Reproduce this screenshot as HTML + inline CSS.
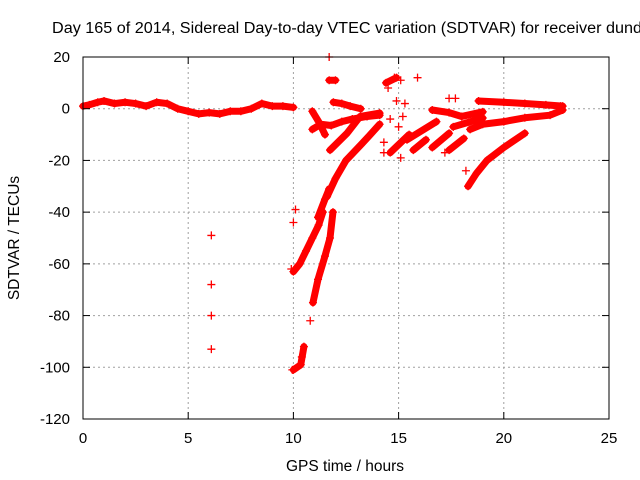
<!DOCTYPE html>
<html><head><meta charset="utf-8"><style>
body{margin:0;background:#fff;}
svg{display:block;font-family:"Liberation Sans",sans-serif;}
</style></head><body>
<svg id="chart" width="640" height="480">
<text x="52" y="33" font-size="15.5" textLength="590" lengthAdjust="spacingAndGlyphs">Day 165 of 2014, Sidereal Day-to-day VTEC variation (SDTVAR) for receiver dund</text>
<text x="345" y="471" text-anchor="middle" font-size="15.5">GPS time / hours</text>
<text transform="translate(19,238) rotate(-90)" text-anchor="middle" font-size="15.5">SDTVAR / TECUs</text>
<g id="grid"></g><g id="marks"></g><g id="axes"></g>
</svg>
<script>
const xTicks=[0,5,10,15,20,25];
const yTicks=[20,0,-20,-40,-60,-80,-100,-120];
const baseline=[[0,1],[0.3,1.5],[0.7,2.5],[1,3],[1.5,2],[2,2.5],[2.5,2],[3,1],[3.5,2.5],[4,2],[4.5,0],[5,-1],[5.5,-2],[6,-1.5],[6.5,-2],[7,-1],[7.5,-1],[8,0],[8.5,2],[9,1],[9.5,1],[10,0.5]];
const trackLow=[[10.0,-101],[10.35,-99],[10.5,-92]];
const trackLeft=[[10.0,-63],[10.3,-60],[10.6,-55],[10.9,-50],[11.2,-45],[11.4,-40]];
const trackRight=[[10.93,-75],[11.17,-66],[11.5,-57],[11.74,-50],[11.88,-40]];
const trackCol=[[11.17,-42],[11.5,-35],[11.7,-31]];
const trackRise=[[11.6,-34],[12.0,-27],[12.5,-20],[13.2,-14],[13.6,-10.5],[14.1,-6]];
const upper1=[[10.9,-8],[11.3,-6],[11.8,-6.5],[12.3,-5],[12.8,-4],[13.5,-3],[14.1,-2.5]];
const upper2=[[11.9,2.5],[12.3,2],[12.7,1],[13.2,0]];
const upper3=[[10.9,-1],[11.2,-5],[11.5,-10]];
const upper4=[[11.74,-16],[12.55,-9.5],[13.17,-3],[14.1,-1.7]];
const seg1=[[14.6,-17],[15.5,-10]];
const seg2=[[15.7,-16],[16.3,-12]];
const seg3=[[15.4,-12],[16.8,-5]];
const seg4=[[16.6,-15],[17.4,-9.5]];
const seg5=[[17.4,-16],[18.1,-11.5]];
const seg6=[[16.6,-0.5],[17.4,-1.5],[18,-3],[19,-1.2]];
const seg7=[[17.6,-7],[19,-3.6]];
const seg8=[[14.4,10],[14.9,12]];
const seg9=[[11.7,11],[12.0,11]];
const band1=[[18.8,3],[20,2.5],[21,2],[22,1.5],[22.8,1]];
const band2=[[18.4,-8],[19,-6],[20,-5],[21,-3.5],[22.2,-2.5],[22.8,-0.5]];
const band3=[[18.3,-30],[18.7,-25],[19.2,-20],[20,-15],[21,-9.5]];
const isolated=[[6.1,-49],[6.1,-68],[6.1,-80],[6.1,-93],[11.7,20],[10.1,-39],[10.0,-44],[9.9,-62],[9.95,-101],[10.4,-96],[10.8,-82],[14.5,8],[14.8,12],[15.1,11],[15.9,12],[14.3,-13],[14.3,-17],[15.1,-19],[17.4,4],[17.7,4],[17.2,-17],[18.2,-24],[14.9,3],[15.3,2],[14.6,-4],[15.0,-7],[15.2,-3],[22.7,1]];
const tracks=[baseline,trackLow,trackLeft,trackRight,trackCol,trackRise,upper1,upper2,upper3,upper4,seg1,seg2,seg3,seg4,seg5,seg6,seg7,seg8,seg9,band1,band2,band3];

const L=83,R=609,T=57,B=419,NS="http://www.w3.org/2000/svg";
const sx=v=>L+(v-0)/25*(R-L);
const sy=v=>T+(20-v)/140*(B-T);
function mk(tag,attrs,parent){const e=document.createElementNS(NS,tag);for(const k in attrs)e.setAttribute(k,attrs[k]);parent.appendChild(e);return e;}
const grid=document.getElementById('grid'),marks=document.getElementById('marks'),axes=document.getElementById('axes');
xTicks.forEach(t=>{
  const x=sx(t);
  if(t>0&&t<25){const g=mk('line',{x1:x,x2:x,y1:T,y2:B,stroke:'#a0a0a0','stroke-dasharray':'2,3'},grid);
  
  }
  mk('line',{x1:x,x2:x,y1:B,y2:B-7,stroke:'#000'},axes);
  mk('line',{x1:x,x2:x,y1:T,y2:T+7,stroke:'#000'},axes);
  const tx=mk('text',{x:x,y:B+24,'text-anchor':'middle','font-size':15},axes);tx.textContent=t;
  
  
});
yTicks.forEach(t=>{
  const y=sy(t);
  if(t<20&&t>-120){const g=mk('line',{x1:L,x2:R,y1:y,y2:y,stroke:'#a0a0a0','stroke-dasharray':'2,3'},grid);
  
  }
  mk('line',{x1:L,x2:L+7,y1:y,y2:y,stroke:'#000'},axes);
  mk('line',{x1:R,x2:R-7,y1:y,y2:y,stroke:'#000'},axes);
  const tx=mk('text',{x:L-13,y:y+5,'text-anchor':'end','font-size':15},axes);tx.textContent=t;
  
  
});
const frame=mk('rect',{x:L,y:T,width:R-L,height:B-T,fill:'none',stroke:'#000'},axes);


function plus(x,y){
  const p=mk('path',{d:`M${sx(x)-4},${sy(y)}h8M${sx(x)},${sy(y)-4}v8`,stroke:'#f00','stroke-width':1.3,fill:'none'},marks);
  
  
}
tracks.forEach(tr=>{
  const pl=mk('polyline',{points:tr.map(p=>sx(p[0])+','+sy(p[1])).join(' '),stroke:'#f00','stroke-width':7,fill:'none','stroke-linejoin':'round','stroke-linecap':'round'},marks);
  
  
  tr.forEach(p=>plus(p[0],p[1]));
});
isolated.forEach(p=>plus(p[0],p[1]));
</script>
</body></html>
